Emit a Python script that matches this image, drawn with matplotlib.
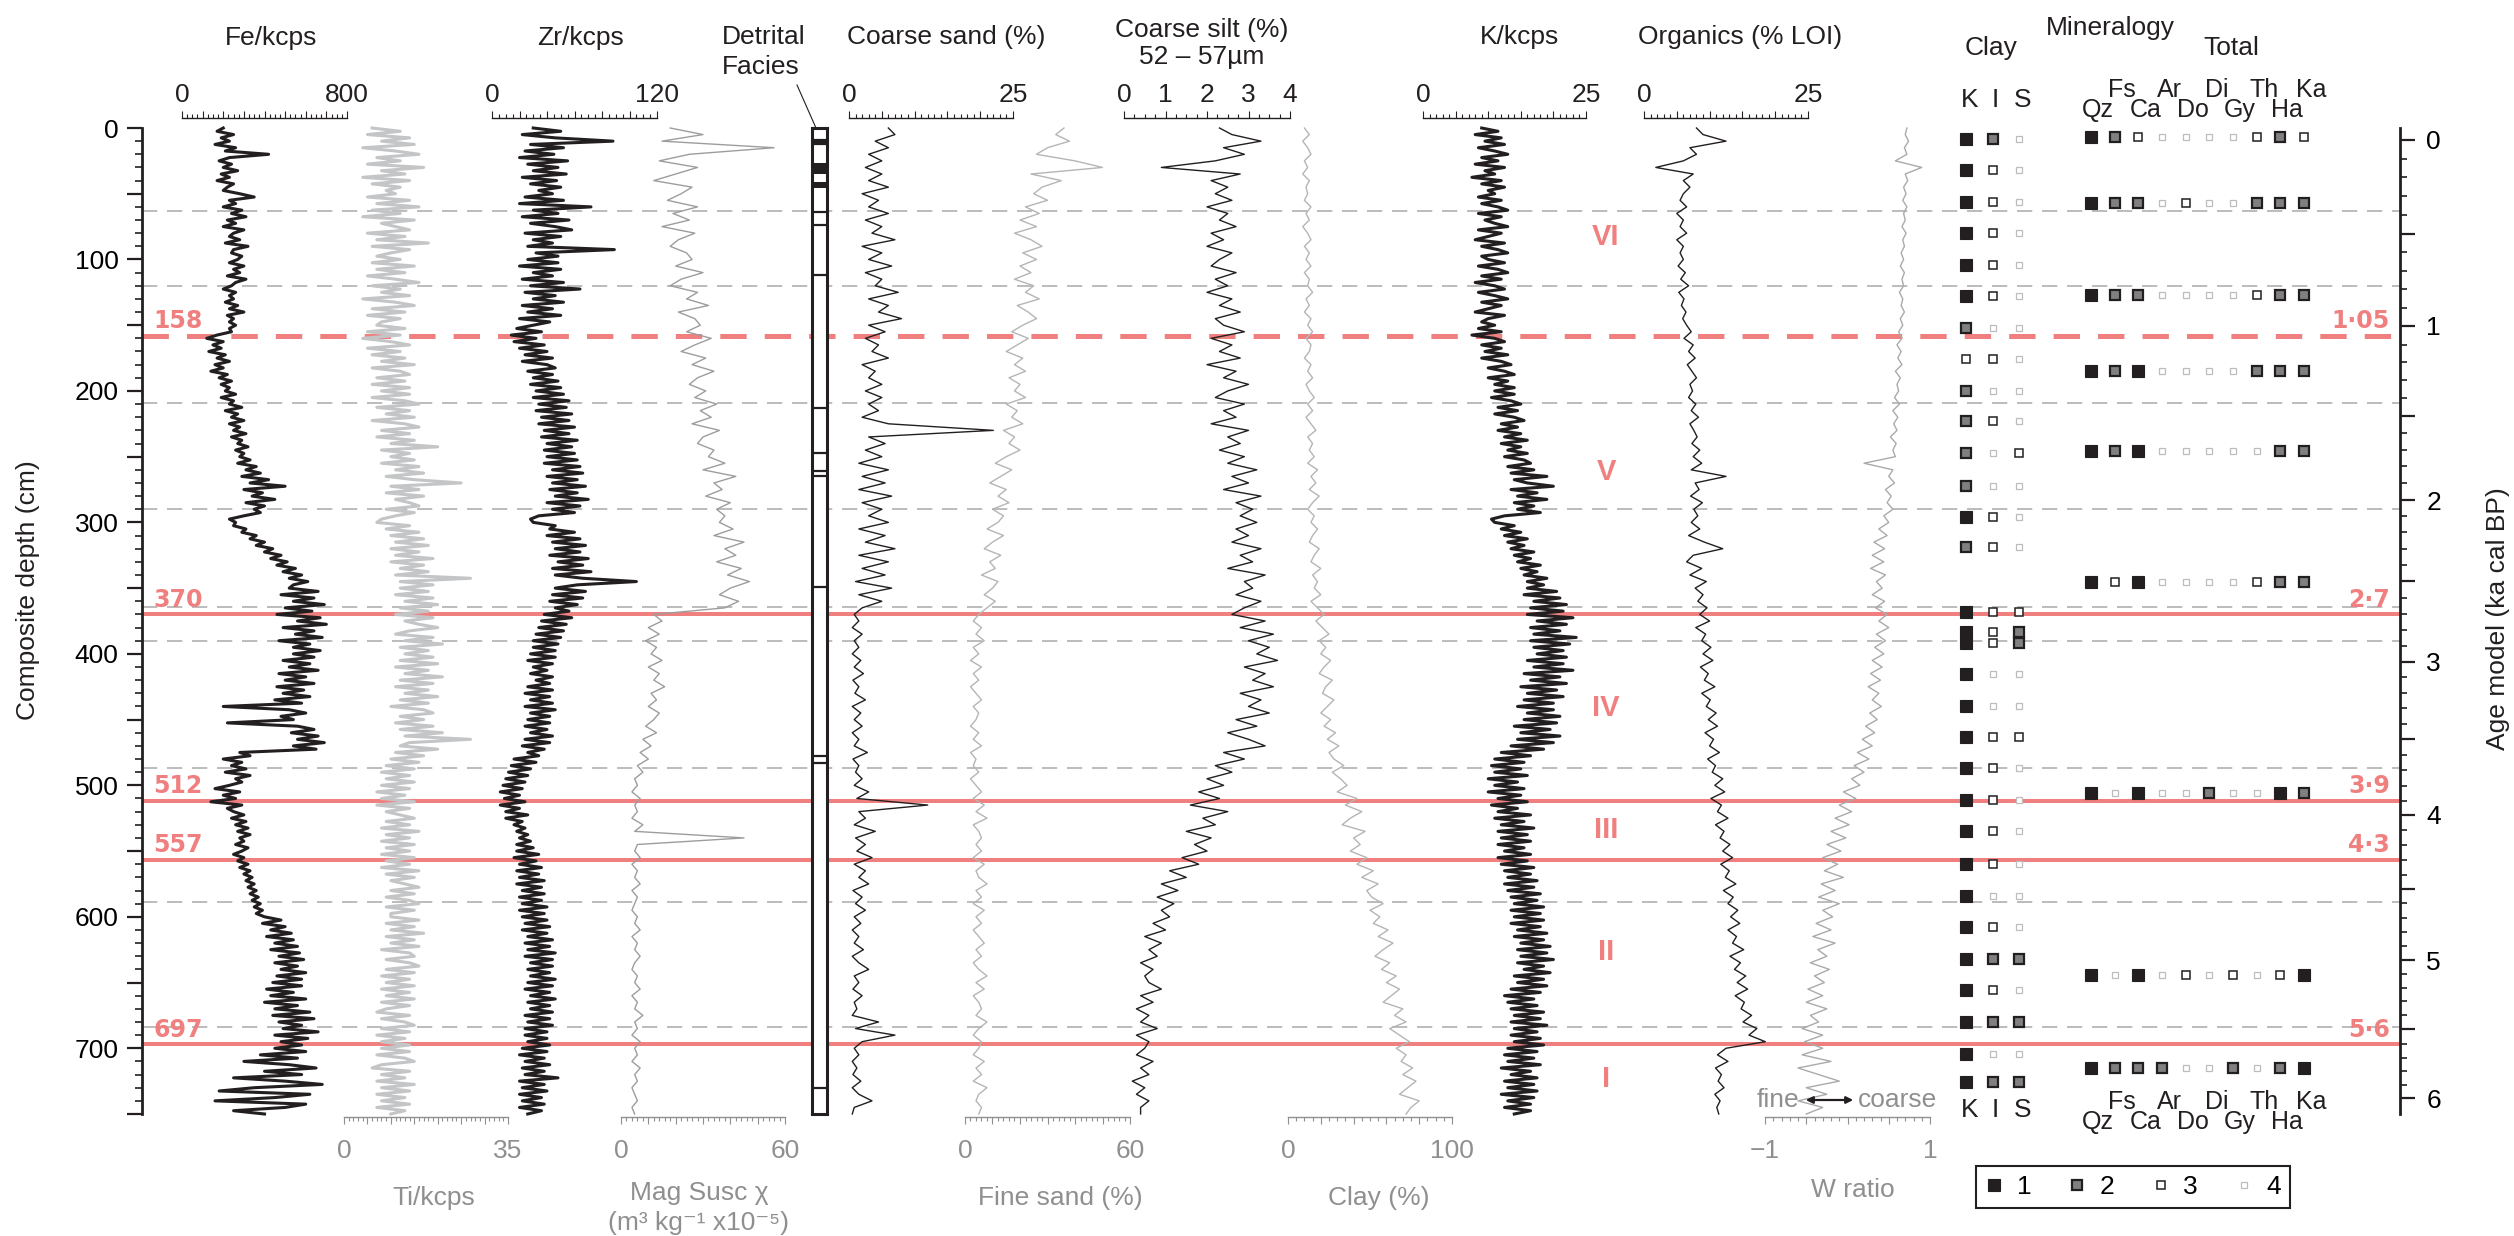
import numpy as np
import matplotlib
matplotlib.use("Agg")
import matplotlib.pyplot as plt
from matplotlib.ticker import MultipleLocator, FuncFormatter, FixedLocator
from matplotlib.lines import Line2D
from matplotlib.patches import FancyArrowPatch
from matplotlib.transforms import blended_transform_factory

plt.rcParams['font.family'] = ['Liberation Sans', 'DejaVu Sans']
plt.rcParams['lines.scale_dashes'] = False

# ------------------------------------------------------------------ data
XRF_STEP = 2.5   # cm
GS_STEP = 5.0    # cm

fe_kcps = [
    200, 170, 250, 190, 230, 160, 260, 210, 420, 230, 180, 240, 200, 270, 190, 230, 170, 250, 220, 200,
    280, 350, 230, 260, 200, 290, 240, 310, 220, 260, 200, 300, 250, 230, 280, 210, 320, 250, 240, 290,
    270, 230, 300, 250, 280, 220, 310, 260, 240, 200, 260, 230, 250, 210, 270, 230, 300, 220, 250, 230,
    260, 230, 240, 170, 120, 200, 150, 190, 130, 210, 170, 230, 160, 200, 140, 220, 180, 240, 190, 230,
    210, 260, 190, 250, 230, 290, 210, 270, 240, 300, 230, 280, 250, 310, 240, 290, 270, 320, 260, 300,
    280, 330, 270, 360, 310, 380, 290, 420, 330, 500, 300, 390, 340, 450, 310, 400, 350, 380, 300, 230,
    260, 250, 310, 290, 360, 330, 400, 360, 440, 400, 480, 430, 510, 460, 550, 490, 580, 520, 610, 540,
    520, 660, 480, 640, 540, 690, 500, 630, 460, 670, 560, 700, 490, 640, 550, 680, 470, 620, 540, 670,
    540, 640, 490, 620, 520, 660, 470, 600, 500, 640, 460, 590, 490, 620, 450, 580, 200, 520, 600, 480,
    540, 220, 560, 640, 530, 660, 560, 690, 540, 650, 280, 330, 200, 290, 240, 310, 210, 330, 260, 290,
    230, 160, 280, 200, 260, 140, 290, 220, 250, 300, 240, 310, 260, 320, 270, 330, 280, 300, 260, 320,
    290, 250, 300, 270, 320, 280, 330, 300, 340, 310, 350, 320, 360, 330, 370, 340, 380, 350, 390, 360,
    400, 480, 390, 500, 430, 530, 410, 540, 450, 560, 430, 570, 470, 590, 450, 560, 480, 600, 460, 580,
    440, 580, 410, 540, 430, 600, 400, 560, 450, 620, 440, 640, 470, 580, 490, 660, 450, 610, 480, 580,
    450, 600, 380, 560, 300, 520, 650, 400, 580, 250, 500, 680, 350, 180, 620, 450, 160, 600, 500, 250,
    400]

ti_kcps = [
    6, 12, 5, 14, 8, 15, 4, 11, 16, 7, 12, 5, 17, 8, 13, 4, 14, 6, 12, 9,
    11, 5, 14, 7, 16, 6, 12, 4, 15, 8, 11, 14, 5, 13, 7, 18, 6, 14, 10, 7,
    12, 6, 15, 7, 13, 5, 11, 16, 6, 12, 8, 14, 4, 11, 15, 6, 13, 5, 12, 8,
    7, 13, 5, 12, 4, 10, 14, 5, 12, 6, 13, 8, 15, 6, 12, 14, 7, 13, 6, 14,
    8, 14, 6, 13, 16, 7, 14, 9, 15, 6, 13, 16, 8, 14, 7, 15, 10, 20, 8, 14,
    10, 15, 8, 16, 11, 17, 9, 15, 25, 10, 16, 9, 17, 11, 14, 16, 9, 15, 11, 8,
    7, 14, 9, 16, 10, 17, 11, 18, 10, 16, 11, 19, 10, 17, 12, 18, 11, 27, 12, 19,
    12, 18, 11, 19, 13, 20, 12, 18, 11, 19, 13, 16, 20, 14, 11, 19, 13, 21, 12, 18,
    13, 19, 12, 20, 11, 18, 13, 21, 12, 19, 11, 18, 13, 20, 12, 18, 10, 17, 19, 12,
    17, 11, 19, 12, 21, 13, 27, 14, 12, 20, 11, 17, 10, 16, 9, 15, 8, 14, 9, 15,
    8, 14, 7, 13, 8, 15, 7, 14, 9, 12, 15, 9, 14, 8, 16, 9, 14, 8, 15, 9,
    14, 8, 15, 9, 14, 8, 16, 9, 15, 10, 13, 16, 10, 15, 9, 14, 16, 9, 15, 10,
    10, 16, 9, 15, 10, 17, 9, 15, 10, 16, 8, 14, 15, 9, 14, 16, 9, 15, 8, 14,
    9, 15, 8, 14, 9, 15, 8, 14, 9, 7, 14, 8, 13, 15, 8, 14, 7, 13, 8, 14,
    8, 14, 7, 13, 15, 8, 6, 14, 8, 13, 7, 15, 8, 14, 7, 13, 8, 14, 7, 13,
    10]

zr_kcps = [
    30, 50, 22, 46, 88, 28, 52, 24, 45, 20, 55, 26, 48, 30, 54, 22, 47, 28, 50, 34,
    44, 24, 52, 20, 72, 30, 48, 22, 56, 28, 46, 58, 24, 50, 30, 44, 26, 89, 32, 48,
    26, 48, 20, 50, 30, 44, 22, 52, 28, 64, 24, 46, 30, 52, 22, 44, 26, 50, 20, 42,
    30, 18, 36, 14, 32, 16, 38, 20, 40, 24, 44, 22, 40, 46, 26, 44, 30, 48, 28, 50,
    32, 52, 30, 56, 34, 54, 32, 58, 36, 56, 34, 60, 38, 56, 36, 62, 40, 58, 38, 60,
    40, 62, 38, 64, 44, 66, 40, 62, 44, 68, 42, 62, 46, 70, 40, 64, 44, 60, 34, 28,
    30, 46, 42, 60, 40, 64, 44, 68, 46, 64, 42, 70, 48, 66, 44, 72, 46, 66, 105, 62,
    46, 68, 44, 66, 42, 62, 46, 56, 38, 58, 36, 54, 34, 52, 32, 50, 30, 48, 30, 46,
    28, 46, 26, 44, 30, 40, 28, 44, 32, 42, 26, 44, 24, 42, 28, 44, 24, 46, 28, 42,
    26, 42, 24, 40, 28, 44, 24, 42, 22, 38, 26, 34, 16, 32, 14, 28, 12, 26, 10, 24,
    8, 22, 6, 20, 9, 24, 6, 20, 10, 26, 10, 22, 16, 24, 18, 26, 20, 28, 18, 30,
    18, 34, 16, 32, 20, 36, 18, 34, 20, 38, 18, 36, 22, 38, 20, 36, 22, 40, 20, 38,
    22, 40, 24, 42, 22, 40, 26, 44, 24, 42, 26, 46, 24, 44, 28, 44, 26, 42, 28, 46,
    26, 44, 24, 42, 28, 46, 26, 42, 28, 44, 24, 42, 26, 44, 24, 40, 24, 40, 26, 42,
    22, 40, 20, 38, 24, 42, 22, 38, 24, 48, 20, 38, 22, 40, 20, 36, 22, 38, 20, 36,
    26]

k_kcps = [
    9, 11.5, 8, 12, 9.5, 12.5, 8.5, 11, 13, 9, 11.5, 8, 12.5, 9.5, 11, 7.5, 12, 9, 12.5, 10,
    11, 8.5, 12, 9, 11.5, 13, 8.5, 12, 9.5, 11, 13, 8.5, 12, 10, 8, 12.5, 9, 11.5, 13, 9,
    10, 12.5, 8.5, 11.5, 13, 9, 12, 8, 11, 12.5, 8.5, 11, 13, 9, 12, 10, 8, 12.5, 10, 9,
    11, 8.5, 12, 7.5, 11, 12.5, 9, 12, 9.5, 13, 9, 12, 13.5, 10, 12.5, 14, 10, 13, 11, 14,
    11, 14, 10.5, 13.5, 15, 11.5, 14.5, 11, 14, 15.5, 12, 14.5, 11.5, 15, 12.5, 16, 12, 15, 13, 16,
    12.5, 15.5, 16.5, 13, 17, 13.5, 19, 14, 16, 20, 13.5, 17.5, 14.5, 19, 14, 17, 14.5, 18, 12.5, 10.5,
    11, 14, 12, 15, 12.5, 16, 13, 15.5, 13.5, 17, 14, 16.5, 14.5, 18, 15, 17.5, 15.5, 19, 16, 18.5,
    16, 20.5, 15.5, 21, 17, 22, 16.5, 21.5, 16, 23, 17.5, 22, 16.5, 21, 17, 23.5, 16.5, 22.5, 17, 21.5,
    17.5, 22, 16, 21.5, 17, 23, 15.5, 21, 16.5, 22, 15, 20.5, 16, 21.5, 15.5, 20, 14.5, 20, 16, 21,
    15.5, 20.5, 14, 19.5, 15, 21, 14.5, 20, 13.5, 18.5, 12, 16.5, 11, 15.5, 10.5, 15, 11, 16, 10, 14.5,
    11, 15.5, 10, 15, 11.5, 16, 10.5, 14.5, 11.5, 16.5, 11, 15.5, 12, 17, 11.5, 16, 12, 16.5, 11.5, 15.5,
    12.5, 16.5, 11.5, 16, 12, 17, 12.5, 16.5, 13, 17.5, 12.5, 17, 13, 18, 13.5, 17.5, 14, 18.5, 13.5, 18,
    14, 18.5, 13.5, 18, 14.5, 19, 14, 18.5, 15, 19.5, 14.5, 19, 15, 20, 14.5, 18.5, 15.5, 19.5, 14, 18.5,
    14.5, 19, 13.5, 18, 12.5, 17, 13, 17.5, 13.5, 18.5, 14, 18, 13.5, 19, 14, 17.5, 13.5, 18, 14, 18.5,
    13, 17.5, 12.5, 17, 13, 18, 12, 16.5, 13.5, 17.5, 12.5, 17, 13, 17.5, 12, 17, 13, 16.5, 12.5, 16.5,
    14]

mag_susc = [
    18, 30, 15, 56, 25, 14, 28, 20, 12, 26,
    22, 17, 28, 19, 25, 15, 27, 21, 18, 24,
    26, 20, 30, 22, 18, 28, 24, 32, 21, 27,
    29, 24, 33, 27, 22, 31, 26, 34, 28, 25,
    31, 27, 35, 29, 33, 26, 36, 30, 28, 34,
    32, 38, 30, 42, 34, 37, 31, 40, 35, 38,
    36, 41, 34, 45, 38, 42, 35, 44, 39, 47,
    40, 36, 43, 38, 12, 15, 10, 14, 9, 13,
    11, 15, 10, 14, 12, 16, 11, 13, 10, 14,
    12, 9, 13, 8, 11, 7, 10, 6, 8, 5,
    6, 4, 7, 5, 6, 4, 8, 5, 45, 6,
    5, 7, 4, 6, 5, 7, 4, 6, 5, 4,
    6, 5, 7, 4, 6, 5, 7, 5, 4, 6,
    5, 7, 4, 6, 5, 8, 5, 6, 4, 7,
    5, 6, 4, 7, 5, 6, 4, 5, 6, 4,
    5]

coarse_sand = [
    6, 7, 4, 6, 3, 5, 2.5, 5, 3, 6,
    2, 4.5, 3, 6, 2.5, 5, 3.5, 7, 2, 5,
    3, 6.5, 2.5, 5, 4, 7.5, 3, 6, 4.5, 8,
    3, 5.5, 2.5, 4.5, 3.5, 6, 2, 4, 3, 5,
    2.5, 5, 3, 4.5, 2, 6, 22, 3, 5.5, 2.5,
    5, 1.5, 6, 2, 5.5, 1.5, 6.5, 2, 5, 3,
    6, 1.5, 5.5, 2.5, 7, 1.5, 6, 2, 5.5, 1,
    6.5, 1.5, 5, 2, 0.8, 1.5, 0.5, 2, 0.8, 1.5,
    0.5, 1.8, 0.8, 2.2, 0.6, 1.5, 0.9, 2.5, 0.5, 1.8,
    0.8, 2, 0.5, 1.5, 0.8, 2.8, 0.6, 1.5, 1, 2,
    0.8, 3, 1.2, 12, 1.5, 2.5, 0.8, 4, 1, 2.5,
    1.2, 3.5, 0.8, 2.5, 1.5, 3, 0.6, 2, 1, 2.5,
    0.8, 1.8, 0.5, 1.5, 0.8, 2.2, 0.5, 1.5, 3, 0.8,
    1.5, 0.6, 2, 0.8, 1.2, 0.5, 4.5, 1, 7, 2,
    0.8, 1.5, 0.5, 1.2, 0.6, 1.8, 0.5, 1.5, 3.5, 0.8,
    0.5]

fine_sand = [
    36, 33, 38, 30, 26, 40, 50, 24, 35, 28,
    25, 30, 22, 27, 20, 26, 18, 24, 28, 21,
    26, 20, 24, 18, 25, 22, 27, 19, 23, 26,
    21, 17, 23, 19, 15, 21, 18, 22, 16, 20,
    18, 22, 15, 19, 17, 21, 14, 18, 16, 20,
    15, 11, 17, 13, 9, 15, 12, 16, 10, 14,
    12, 8, 14, 10, 7, 13, 9, 11, 6, 12,
    10, 7, 11, 8, 5, 3, 6, 4, 7, 3,
    5, 2, 6, 3, 5, 2, 4, 6, 3, 5,
    4, 2, 5, 3, 6, 2, 4, 3, 5, 2,
    4, 6, 3, 7, 4, 8, 3, 5, 6, 4,
    6, 3, 7, 4, 5, 8, 4, 6, 3, 7,
    4, 6, 3, 5, 7, 4, 6, 3, 5, 8,
    4, 7, 3, 5, 6, 4, 8, 5, 3, 6,
    5, 3, 7, 4, 6, 3, 8, 5, 4, 6,
    5]

coarse_silt = [
    2.3, 2.6, 3.3, 2.4, 2.9, 2.2, 0.9, 2.8, 2.1, 2.5,
    2.2, 2.6, 2.0, 2.5, 2.3, 2.7, 2.1, 2.4, 2.0, 2.6,
    2.3, 2.1, 2.7, 2.2, 2.5, 2.0, 2.6, 2.3, 2.8, 2.2,
    2.4, 2.9, 2.1, 2.6, 2.3, 2.8, 2.0, 2.7, 2.4, 3.0,
    2.5, 2.2, 2.9, 2.4, 2.7, 2.1, 3.0, 2.5, 2.8, 2.3,
    2.9, 2.5, 3.2, 2.6, 3.0, 2.4, 3.3, 2.7, 3.1, 2.8,
    3.2, 2.7, 3.0, 2.6, 3.3, 2.8, 3.1, 2.5, 3.4, 2.9,
    3.1, 2.7, 3.3, 2.9, 2.6, 3.4, 2.8, 3.6, 3.0, 3.5,
    3.2, 3.7, 2.9, 3.4, 3.1, 3.6, 2.8, 3.3, 3.0, 3.5,
    2.7, 3.2, 2.5, 3.0, 3.4, 2.4, 2.9, 2.2, 2.6, 2.0,
    2.4, 1.8, 2.3, 1.6, 2.5, 1.9, 2.2, 1.5, 2.1, 1.7,
    2.0, 1.4, 1.8, 1.1, 1.5, 0.9, 1.3, 0.8, 1.2, 0.9,
    1.1, 0.7, 1.0, 0.5, 0.9, 0.6, 0.8, 0.4, 0.7, 0.5,
    0.6, 0.9, 0.4, 0.7, 0.3, 0.6, 0.4, 0.8, 0.3, 0.6,
    0.5, 0.3, 0.7, 0.4, 0.6, 0.2, 0.5, 0.3, 0.6, 0.4,
    0.4]

clay_pct = [
    10, 13, 9, 12, 14, 10, 12, 9, 13, 11,
    12, 10, 14, 11, 13, 9, 12, 14, 10, 13,
    11, 14, 10, 13, 12, 15, 11, 13, 10, 14,
    12, 15, 11, 14, 13, 10, 14, 12, 15, 11,
    13, 16, 12, 15, 11, 14, 17, 12, 15, 13,
    16, 12, 18, 14, 17, 13, 19, 15, 12, 16,
    14, 18, 15, 13, 19, 16, 14, 20, 15, 18,
    16, 20, 14, 18, 22, 17, 21, 25, 19, 23,
    20, 26, 22, 19, 27, 23, 21, 28, 24, 20,
    26, 22, 29, 24, 31, 25, 28, 34, 27, 32,
    36, 30, 42, 35, 45, 38, 33, 47, 40, 44,
    38, 48, 42, 52, 45, 55, 48, 51, 58, 50,
    56, 52, 61, 55, 64, 58, 53, 62, 57, 66,
    60, 68, 63, 58, 70, 65, 72, 62, 68, 74,
    66, 72, 69, 76, 70, 78, 73, 68, 80, 75,
    72]

organics = [
    8, 9, 12.5, 7, 8, 6, 1.8, 7.5, 6, 7,
    6, 5.5, 6.5, 5, 6, 5.5, 6.5, 5, 6, 5.5,
    6, 5.2, 6.3, 5.6, 6.8, 5.3, 6.1, 5.7, 6.4, 5.9,
    6.5, 7.2, 6.1, 7.5, 6.8, 7.8, 6.6, 7.3, 8, 7,
    7.4, 6.8, 7.9, 7.2, 8.3, 7, 7.6, 8.1, 7.3, 8.5,
    7.5, 8.8, 7.2, 12.5, 7.8, 8.4, 7.1, 8.9, 7.6, 8.2,
    7.2, 8.5, 6.8, 9.2, 12, 7.5, 6.5, 8.8, 7, 9.5,
    7.8, 9, 8.2, 9.6, 8.5, 10, 7.9, 9.4, 8.8, 10.2,
    9, 10.5, 8.6, 9.8, 9.2, 10.8, 8.8, 10.1, 9.5, 11,
    9.8, 11.2, 9.3, 10.6, 10, 11.5, 9.7, 10.9, 10.4, 12,
    10.8, 12.3, 10.2, 11.8, 11.2, 12.8, 10.9, 12.2, 11.6, 13.1,
    12, 13.5, 11.7, 13, 12.4, 14, 12.1, 13.6, 12.8, 14.3,
    13.2, 14.6, 12.8, 14.1, 13.5, 15.2, 13.1, 14.7, 13.8, 15.5,
    14.2, 15.8, 13.9, 15.3, 14.8, 16.4, 15.1, 17.2, 16, 18.5,
    12.5, 11.2, 12.8, 10.9, 11.8, 11.3, 12.2, 10.8, 11.6, 11.1,
    11.4]

w_ratio = [
    0.72, 0.70, 0.74, 0.69, 0.72, 0.58, 0.90, 0.70, 0.73, 0.68,
    0.71, 0.67, 0.72, 0.68, 0.70, 0.66, 0.71, 0.67, 0.69, 0.65,
    0.68, 0.64, 0.69, 0.66, 0.68, 0.63, 0.67, 0.65, 0.69, 0.64,
    0.67, 0.62, 0.66, 0.60, 0.65, 0.61, 0.66, 0.58, 0.64, 0.60,
    0.62, 0.57, 0.63, 0.55, 0.61, 0.56, 0.60, 0.52, 0.59, 0.55,
    0.58, 0.20, 0.55, 0.50, 0.57, 0.46, 0.53, 0.48, 0.55, 0.44,
    0.50, 0.38, 0.48, 0.32, 0.45, 0.30, 0.44, 0.28, 0.46, 0.35,
    0.42, 0.30, 0.45, 0.34, 0.48, 0.38, 0.50, 0.35, 0.46, 0.33,
    0.44, 0.30, 0.42, 0.28, 0.40, 0.25, 0.38, 0.30, 0.41, 0.27,
    0.36, 0.22, 0.33, 0.18, 0.30, 0.12, 0.26, 0.08, 0.20, 0.05,
    0.15, -0.05, 0.10, -0.10, 0.05, -0.15, 0.02, -0.20, -0.02, -0.25,
    -0.08, -0.30, -0.12, -0.28, -0.05, -0.32, -0.15, -0.35, -0.10, -0.30,
    -0.18, -0.38, -0.20, -0.42, -0.15, -0.36, -0.25, -0.45, -0.22, -0.40,
    -0.28, -0.48, -0.30, -0.50, -0.25, -0.45, -0.35, -0.55, -0.30, -0.52,
    -0.30, -0.55, -0.20, -0.60, -0.35, -0.10, -0.50, -0.25, -0.60, -0.30,
    -0.50]

# detrital facies log
facies_bounds = [9, 11, 12, 64, 74, 112, 213, 247, 261, 265, 349, 478, 483, 730]
facies_dark = [(27, 35), (41, 46)]

# horizons
red_solid = [370, 512, 557, 697]
red_dashed = [158]
left_red_labels = ['158', '370', '512', '557', '697']
left_red_depths = [158, 370, 512, 557, 697]
right_red_labels = ['1·05', '2·7', '3·9', '4·3', '5·6']
grey_dashed = [63, 120, 209, 290, 364, 390, 487, 589, 684]
unit_names = ['VI', 'V', 'IV', 'III', 'II', 'I']
unit_depths = [83, 262, 441, 534, 627, 723]

# age model (ka cal BP vs composite depth, cm)
age_ka = [0, 0.5, 1.0, 1.05, 1.5, 2.0, 2.5, 2.7, 3.0, 3.5, 3.9, 4.0, 4.3, 4.5, 5.0, 5.5, 5.6, 6.0]
age_depth = [9, 80.6, 150.6, 158, 219, 283, 344.6, 370, 406, 465, 512, 522.5, 557, 579, 633, 685, 697, 738]

# mineralogy (1 = most abundant ... 4 = least)
clay_names = ['K', 'I', 'S']
clay_depth = [8, 32, 56, 80, 104, 128, 152, 176, 200, 223, 247, 272, 296, 319, 368, 383, 392,
              415, 440, 463, 487, 511, 535, 560, 584, 608, 632, 656, 680, 704, 726]
clay_K = [1, 1, 1, 1, 1, 1, 2, 3, 2, 2, 2, 2, 1, 2, 1, 1, 1, 1, 1, 1, 1, 1, 1, 1, 1, 1, 1, 1, 1, 1, 1]
clay_I = [2, 3, 3, 3, 3, 3, 4, 3, 4, 3, 4, 4, 3, 3, 3, 3, 3, 4, 4, 3, 3, 3, 3, 3, 4, 3, 2, 3, 2, 4, 2]
clay_S = [4, 4, 4, 4, 4, 4, 4, 4, 4, 4, 3, 4, 4, 4, 3, 2, 2, 4, 4, 3, 4, 4, 4, 4, 4, 4, 2, 4, 2, 4, 2]

total_names = ['Qz', 'Fs', 'Ca', 'Ar', 'Do', 'Di', 'Gy', 'Th', 'Ha', 'Ka']
total_depth = [7, 57, 127, 185, 246, 345, 506, 644, 715]
total_cls = {
    'Qz': [1, 1, 1, 1, 1, 1, 1, 1, 1],
    'Fs': [2, 2, 2, 2, 2, 3, 4, 4, 2],
    'Ca': [3, 2, 2, 1, 1, 1, 1, 1, 2],
    'Ar': [4, 4, 4, 4, 4, 4, 4, 4, 2],
    'Do': [4, 3, 4, 4, 4, 4, 4, 3, 4],
    'Di': [4, 4, 4, 4, 4, 4, 2, 4, 4],
    'Gy': [4, 4, 4, 4, 4, 4, 4, 3, 2],
    'Th': [3, 2, 3, 2, 4, 3, 4, 4, 4],
    'Ha': [2, 2, 2, 2, 2, 2, 1, 3, 2],
    'Ka': [3, 2, 2, 2, 2, 2, 2, 1, 1],
}

# ------------------------------------------------------------------ style
W, H = 2514, 1236
Y0, Y1 = 128, 1114          # pixel rows of depth 0 and 750 cm
DMAX = 750
BLACK = '#231f20'
RED = '#f08080'
GREY_T = '#8f8f8f'
FS = 19
LW_DENSE = 2.2

fig = plt.figure(figsize=(W / 100, H / 100), dpi=100)


def rect(x0, x1, y0=Y0, y1=Y1):
    return [x0 / W, 1 - y1 / H, (x1 - x0) / W, (y1 - y0) / H]


def ftext(x, y, s, **kw):
    kw.setdefault('ha', 'center')
    kw.setdefault('va', 'center')
    kw.setdefault('fontsize', FS)
    kw.setdefault('color', BLACK)
    return fig.text(x / W, 1 - y / H, s, **kw)


def depth_of(arr, step):
    return np.arange(len(arr)) * step


def ifmt(v):
    return '%d' % round(v) if v >= 0 else '\u2212%d' % round(-v)


def panel(x0, x1, lim, side, color, major, minor, labels):
    ax = fig.add_axes(rect(x0, x1), facecolor='none')
    ax.set_xlim(*lim)
    ax.set_ylim(DMAX, 0)
    for s in ['left', 'right', 'top', 'bottom']:
        ax.spines[s].set_visible(s == side)
    sp = ax.spines[side]
    sp.set_color(color)
    sp.set_linewidth(1.0)
    sp.set_position(('outward', 7 if side == 'top' else 2))
    ax.set_yticks([])
    if side == 'top':
        ax.xaxis.tick_top()
    else:
        ax.xaxis.tick_bottom()
    ax.xaxis.set_major_locator(MultipleLocator(major))
    ax.xaxis.set_minor_locator(MultipleLocator(minor))
    ax.xaxis.set_major_formatter(FuncFormatter(
        lambda v, p: ifmt(v) if any(abs(v - t) < 1e-6 for t in labels) else ''))
    ax.tick_params(axis='x', which='major', length=5, width=0.8, color=color,
                   labelcolor=color, labelsize=FS, pad=3 if side == 'top' else 11)
    ax.tick_params(axis='x', which='minor', length=3, width=0.8, color=color)
    return ax


# ---- depth frame
axd = fig.add_axes(rect(142, 2400), facecolor='none')
axd.set_ylim(DMAX, 0)
axd.set_xlim(0, 1)
for s in ['right', 'top', 'bottom']:
    axd.spines[s].set_visible(False)
axd.spines['left'].set_linewidth(2.0)
axd.spines['left'].set_color(BLACK)
axd.set_xticks([])
axd.yaxis.set_major_locator(MultipleLocator(50))
axd.yaxis.set_minor_locator(MultipleLocator(10))
axd.yaxis.set_major_formatter(FuncFormatter(lambda v, p: '%d' % v if v % 100 == 0 else ''))
axd.tick_params(axis='y', which='major', length=11, width=1.6, labelsize=FS, pad=6, color=BLACK)
axd.tick_params(axis='y', which='minor', length=5, width=1.2, color=BLACK)

for d in grey_dashed:
    axd.axhline(d, color='#a9a9a9', lw=1.1, dashes=(11, 7), zorder=1)
for d in red_solid:
    axd.axhline(d, color=RED, lw=2.9, zorder=2)
for d in red_dashed:
    axd.axhline(d, color=RED, lw=3.6, dashes=(19, 13), zorder=2)

ytr = axd.get_yaxis_transform()
for lab, d in zip(left_red_labels, left_red_depths):
    axd.annotate(lab, xy=((178 - 142) / 2258, d), xycoords=ytr, xytext=(0, 2),
                 textcoords='offset points', ha='center', va='bottom', color=RED,
                 fontsize=17, fontweight='bold', family='DejaVu Sans')
for lab, d in zip(right_red_labels, left_red_depths):
    axd.annotate(lab, xy=((2390 - 142) / 2258, d), xycoords=ytr, xytext=(0, 2),
                 textcoords='offset points', ha='right', va='bottom', color=RED,
                 fontsize=17, fontweight='bold', family='DejaVu Sans')
for lab, d in zip(unit_names, unit_depths):
    axd.text((1606 - 142) / 2258, d, lab, transform=ytr, ha='center', va='center',
             color=RED, fontsize=21, fontweight='bold')

# ---- age axis
axa = axd.twinx()
axa.set_ylim(DMAX, 0)
for s in ['left', 'top', 'bottom']:
    axa.spines[s].set_visible(False)
axa.spines['right'].set_linewidth(2.0)
axa.spines['right'].set_color(BLACK)
maj_age = np.arange(0, 6.01, 0.5)
min_age = np.arange(0, 6.01, 0.1)
axa.yaxis.set_major_locator(FixedLocator(np.interp(maj_age, age_ka, age_depth)))
axa.yaxis.set_minor_locator(FixedLocator(np.interp(min_age, age_ka, age_depth)))
axa.set_yticklabels(['%d' % a if abs(a - round(a)) < 1e-6 else '' for a in maj_age])
axa.tick_params(axis='y', which='major', length=11, width=1.6, labelsize=FS, pad=8, color=BLACK)
axa.tick_params(axis='y', which='minor', length=5, width=1.2, color=BLACK)

# ---- data panels
ax = panel(182, 347, (0, 800), 'top', BLACK, 100, 25, [0, 800])
ax.plot(fe_kcps, depth_of(fe_kcps, XRF_STEP), color=BLACK, lw=LW_DENSE, clip_on=False)

ax = panel(344, 508, (0, 35), 'bottom', GREY_T, 5, 1, [0, 35])
ax.plot(ti_kcps, depth_of(ti_kcps, XRF_STEP), color='#c4c5c7', lw=LW_DENSE, clip_on=False)

ax = panel(492, 657, (0, 120), 'top', BLACK, 20, 5, [0, 120])
ax.plot(zr_kcps, depth_of(zr_kcps, XRF_STEP), color=BLACK, lw=LW_DENSE, clip_on=False)

ax = panel(621, 785, (0, 60), 'bottom', GREY_T, 10, 2, [0, 60])
ax.plot(mag_susc, depth_of(mag_susc, GS_STEP), color='#9d9d9d', lw=1.0, clip_on=False)

ax = panel(849, 1013, (0, 25), 'top', BLACK, 5, 1, [0, 25])
ax.plot(coarse_sand, depth_of(coarse_sand, GS_STEP), color=BLACK, lw=1.0, clip_on=False)

ax = panel(965, 1130, (0, 60), 'bottom', GREY_T, 10, 2, [0, 60])
ax.plot(fine_sand, depth_of(fine_sand, GS_STEP), color='#b5b5b5', lw=1.0, clip_on=False)

ax = panel(1124, 1290, (0, 4), 'top', BLACK, 1, 0.25, [0, 1, 2, 3, 4])
ax.plot(coarse_silt, depth_of(coarse_silt, GS_STEP), color=BLACK, lw=1.0, clip_on=False)

ax = panel(1288, 1452, (0, 100), 'bottom', GREY_T, 20, 5, [0, 100])
ax.plot(clay_pct, depth_of(clay_pct, GS_STEP), color='#b5b5b5', lw=1.0, clip_on=False)

ax = panel(1423, 1586, (0, 25), 'top', BLACK, 5, 1, [0, 25])
ax.plot(k_kcps, depth_of(k_kcps, XRF_STEP), color=BLACK, lw=LW_DENSE, clip_on=False)

ax = panel(1644, 1808, (0, 25), 'top', BLACK, 5, 1, [0, 25])
ax.plot(organics, depth_of(organics, GS_STEP), color=BLACK, lw=1.0, clip_on=False)

ax = panel(1765, 1930, (-1, 1), 'bottom', GREY_T, 0.5, 0.1, [-1, 1])
ax.plot(w_ratio, depth_of(w_ratio, GS_STEP), color='#aaaaaa', lw=1.0, clip_on=False)

# ---- detrital facies column
axf = fig.add_axes(rect(812, 827), facecolor='white')
axf.set_xlim(0, 1)
axf.set_ylim(DMAX, 0)
axf.set_xticks([])
axf.set_yticks([])
for s in axf.spines.values():
    s.set_linewidth(2.2)
    s.set_color(BLACK)
for d in facies_bounds:
    axf.axhline(d, color=BLACK, lw=1.6)
for a, b in facies_dark:
    axf.axhspan(a, b, color=BLACK, lw=0)

# ---- mineralogy
STY = {
    1: dict(marker='s', ms=8.5, mfc=BLACK, mec=BLACK, mew=0.8),
    2: dict(marker='s', ms=6.8, mfc='#808080', mec=BLACK, mew=1.6),
    3: dict(marker='s', ms=5.2, mfc='white', mec=BLACK, mew=1.1),
    4: dict(marker='s', ms=4.5, mfc='white', mec='#bdbdbd', mew=0.9),
}

axc = fig.add_axes(rect(1952.75, 2032.25), facecolor='none')
axt = fig.add_axes(rect(2079.2, 2315.8), facecolor='none')
for a, n in ((axc, 3), (axt, 10)):
    a.set_xlim(-0.5, n - 0.5)
    a.set_ylim(DMAX, 0)
    a.axis('off')

for i, cls in enumerate([clay_K, clay_I, clay_S]):
    for d, c in zip(clay_depth, cls):
        axc.plot([i], [d], ls='none', clip_on=False, zorder=5, **STY[c])
for i, name in enumerate(total_names):
    for d, c in zip(total_depth, total_cls[name]):
        axt.plot([i], [d], ls='none', clip_on=False, zorder=5, **STY[c])

trc = blended_transform_factory(axc.transData, fig.transFigure)
trt = blended_transform_factory(axt.transData, fig.transFigure)
for i, n in enumerate(clay_names):
    axc.text(i + 0.12, 1 - 100 / H, n, transform=trc, ha='center', va='center', fontsize=FS, color=BLACK)
    axc.text(i + 0.12, 1 - 1110 / H, n, transform=trc, ha='center', va='center', fontsize=FS, color=BLACK)
for i, n in enumerate(total_names):
    yt = 90 if i % 2 else 110
    yb = 1102 if i % 2 else 1122
    axt.text(i + 0.3, 1 - yt / H, n, transform=trt, ha='center', va='center', fontsize=18, color=BLACK)
    axt.text(i + 0.3, 1 - yb / H, n, transform=trt, ha='center', va='center', fontsize=18, color=BLACK)

handles = [Line2D([], [], ls='none', **STY[k]) for k in (1, 2, 3, 4)]
leg = fig.legend(handles, ['1', '2', '3', '4'], loc='center',
                 bbox_to_anchor=(2133 / W, 1 - 1187 / H), ncol=4, frameon=True,
                 fancybox=False, edgecolor=BLACK, framealpha=1, fontsize=FS,
                 handlelength=0.7, handletextpad=0.5, columnspacing=1.4, borderpad=0.35)
leg.get_frame().set_linewidth(1.5)

# ---- titles and labels
ftext(271, 38, 'Fe/kcps')
ftext(580, 38, 'Zr/kcps')
ftext(764, 37, 'Detrital')
ftext(761, 67, 'Facies')
ftext(946, 37, 'Coarse sand (%)')
ftext(1202, 30, 'Coarse silt (%)')
ftext(1202, 57, '52 \u2013 57\u00b5m')
ftext(1520, 37, 'K/kcps')
ftext(1740, 37, 'Organics (% LOI)')
ftext(1991, 48, 'Clay')
ftext(2110, 28, 'Mineralogy')
ftext(2231, 48, 'Total')

ftext(434, 1198, 'Ti/kcps', color=GREY_T)
ftext(699, 1193, 'Mag Susc \u03c7', color=GREY_T)
ftext(699, 1223, '(m\u00b3 kg\u207b\u00b9 x10\u207b\u2075)', color=GREY_T)
ftext(1060, 1198, 'Fine sand (%)', color=GREY_T)
ftext(1379, 1198, 'Clay (%)', color=GREY_T)
ftext(1853, 1190, 'W ratio', color=GREY_T)
ftext(1799, 1100, 'fine', color=GREY_T, ha='right')
ftext(1858, 1100, 'coarse', color=GREY_T, ha='left')
fig.add_artist(FancyArrowPatch((1803 / W, 1 - 1100 / H), (1856 / W, 1 - 1100 / H),
                               transform=fig.transFigure, arrowstyle='<|-|>',
                               mutation_scale=10, lw=1.6, color=BLACK))

ftext(28, 590, 'Composite depth (cm)', rotation=90)
ftext(2498, 619, 'Age model (ka cal BP)', rotation=90)

fig.add_artist(Line2D([797 / W, 816 / W], [1 - 85 / H, 1 - 128 / H],
                      transform=fig.transFigure, color=BLACK, lw=0.8))

fig.savefig('out.png', dpi=100)
